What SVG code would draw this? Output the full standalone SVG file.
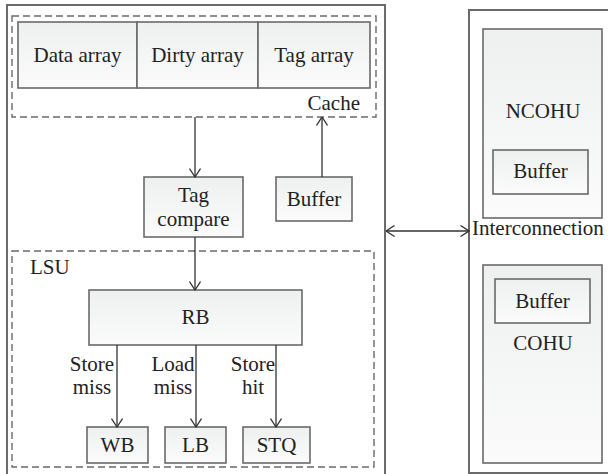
<svg xmlns="http://www.w3.org/2000/svg" width="608" height="474" viewBox="0 0 608 474" font-family="'Liberation Serif', 'DejaVu Serif', serif" font-size="21">
  <defs>
    <linearGradient id="boxFill" x1="0" y1="0" x2="0" y2="1">
      <stop offset="0" stop-color="#eef0f0"/>
      <stop offset="1" stop-color="#fbfbfb"/>
    </linearGradient>
    <marker id="arrow" viewBox="0 0 10 12" refX="9.5" refY="6" markerWidth="10" markerHeight="12" markerUnits="userSpaceOnUse" orient="auto-start-reverse">
      <path d="M1,0.5 L9.5,6 L1,11.5" fill="none" stroke="#333" stroke-width="1.3"/>
    </marker>
    <style>
      .frame { fill: #ffffff; stroke: #6a6a6a; stroke-width: 2; }
      .box { fill: url(#boxFill); stroke: #6a6a6a; stroke-width: 1.6; }
      .dash { fill: none; stroke: #6a6a6a; stroke-width: 1.4; stroke-dasharray: 7 4; }
      .link { fill: none; stroke: #333; stroke-width: 1.3; marker-end: url(#arrow); }
      .both { marker-start: url(#arrow); }
      text { font-family: 'Liberation Serif', 'DejaVu Serif', serif; font-size: 21px; fill: #222; }
      .c { text-anchor: middle; }
    </style>
  </defs>

  <!-- processor core frame and interconnect frame -->
  <rect id="core" class="frame" x="7" y="5" width="378" height="472"/>
  <rect id="uncore" class="frame" x="469" y="10" width="145" height="463"/>

  <!-- cache -->
  <g id="cache">
    <rect class="dash" x="12" y="16" width="364" height="101"/>
    <text x="360" y="110" text-anchor="end">Cache</text>
  </g>
  <g id="data-array">
    <rect class="box" x="18" y="22" width="119" height="66"/>
    <text class="c" x="77.5" y="62">Data array</text>
  </g>
  <g id="dirty-array">
    <rect class="box" x="137" y="22" width="121" height="66"/>
    <text class="c" x="197.5" y="62">Dirty array</text>
  </g>
  <g id="tag-array">
    <rect class="box" x="258" y="22" width="112" height="66"/>
    <text class="c" x="314" y="62">Tag array</text>
  </g>

  <g id="tag-compare">
    <rect class="box" x="144" y="177" width="99" height="60"/>
    <text class="c" x="193.5" y="202">Tag</text>
    <text class="c" x="193.5" y="226">compare</text>
  </g>
  <g id="buffer">
    <rect class="box" x="276" y="177" width="76" height="44"/>
    <text class="c" x="314" y="206">Buffer</text>
  </g>

  <!-- load/store unit -->
  <g id="lsu">
    <rect class="dash" x="12" y="251" width="362" height="216"/>
    <text x="30" y="274">LSU</text>
  </g>
  <g id="rb">
    <rect class="box" x="89" y="290" width="213" height="55"/>
    <text class="c" x="195.5" y="324">RB</text>
  </g>
  <g id="wb">
    <rect class="box" x="87" y="427" width="61" height="36"/>
    <text class="c" x="117.5" y="452">WB</text>
  </g>
  <g id="lb">
    <rect class="box" x="165" y="427" width="61" height="36"/>
    <text class="c" x="195.5" y="452">LB</text>
  </g>
  <g id="stq">
    <rect class="box" x="243" y="427" width="67" height="36"/>
    <text class="c" x="276.5" y="452">STQ</text>
  </g>

  <!-- uncore units -->
  <g id="ncohu">
    <rect class="box" x="483" y="29" width="119" height="189"/>
    <text class="c" x="543" y="118">NCOHU</text>
  </g>
  <g id="ncohu-buffer">
    <rect class="box" x="493" y="150" width="95" height="44"/>
    <text class="c" x="540.5" y="178">Buffer</text>
  </g>
  <g id="interconnection">
    <text x="472" y="235">Interconnection</text>
  </g>
  <g id="cohu">
    <rect class="box" x="483" y="265" width="119" height="198"/>
    <text class="c" x="543" y="350">COHU</text>
  </g>
  <g id="cohu-buffer">
    <rect class="box" x="495" y="279" width="95" height="44"/>
    <text class="c" x="542.5" y="308">Buffer</text>
  </g>

  <!-- connectors -->
  <g id="connectors">
    <line class="link" x1="195" y1="117" x2="195" y2="177"/>
    <line class="link" x1="322" y1="177" x2="322" y2="117"/>
    <line class="link" x1="195" y1="237" x2="195" y2="290"/>
    <line class="link" x1="117" y1="345" x2="117" y2="427"/>
    <line class="link" x1="196" y1="345" x2="196" y2="427"/>
    <line class="link" x1="276" y1="345" x2="276" y2="427"/>
    <line class="link both" x1="386" y1="231" x2="469" y2="231"/>
    <text class="c" x="92" y="371">Store</text>
    <text class="c" x="92" y="394">miss</text>
    <text class="c" x="173" y="371">Load</text>
    <text class="c" x="173" y="394">miss</text>
    <text class="c" x="253" y="371">Store</text>
    <text class="c" x="253" y="394">hit</text>
  </g>
</svg>
